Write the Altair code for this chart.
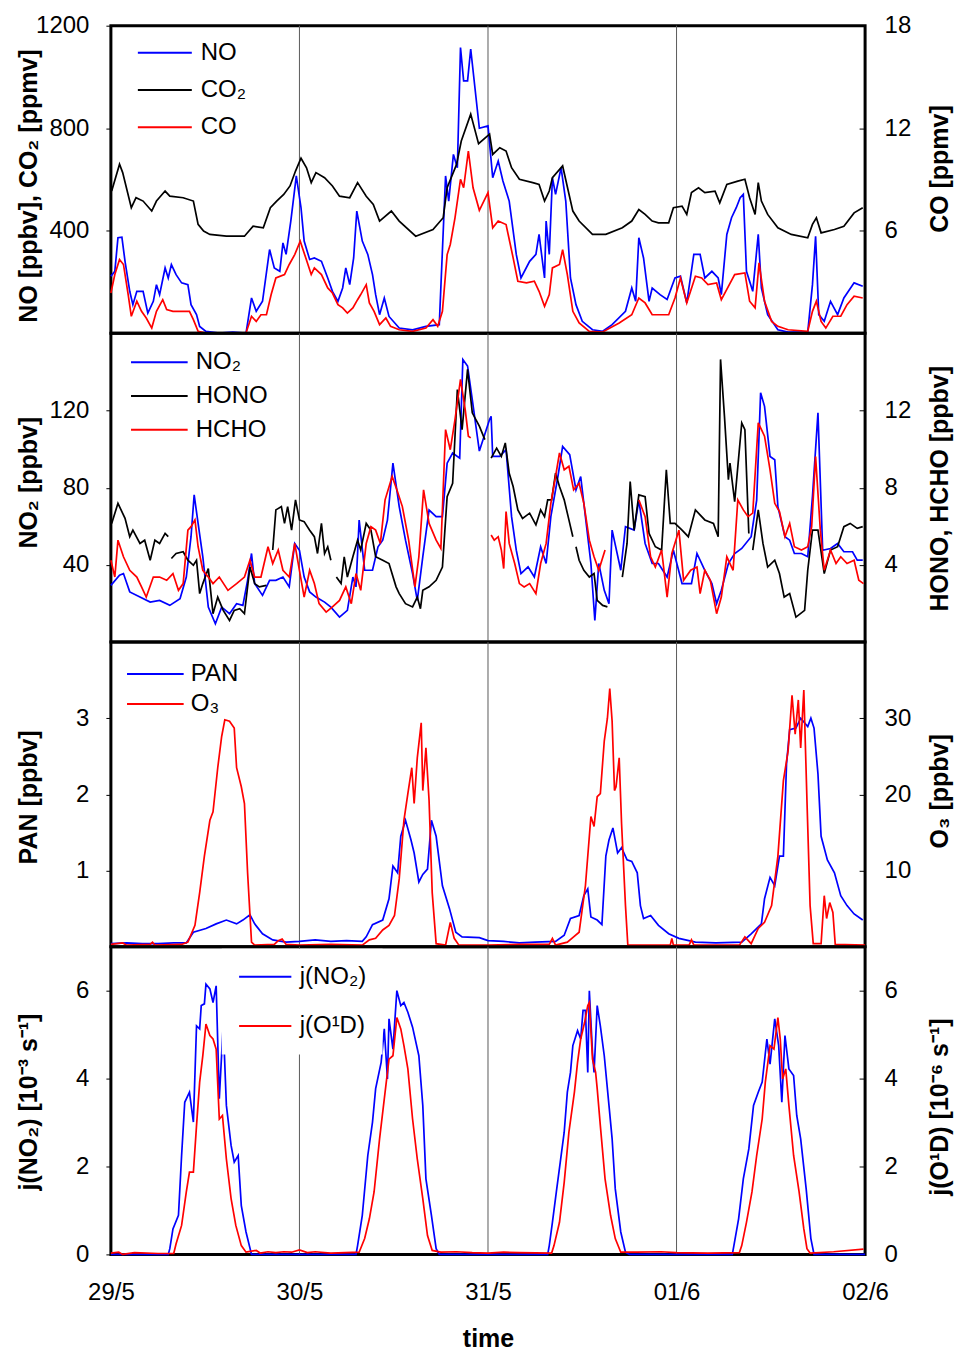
import altair as alt
import pandas as pd

# ---------------- x axis (hours since 29/5 00:00) ----------------
DAY_LABELS = ["29/5", "30/5", "31/5", "01/6", "02/6"]
DAY_TICKS = [0, 24, 48, 72, 96]
DAY_LINES = [24, 48, 72]

# ---------------- panel 1 : NO [ppbv], CO2 [ppmv] (left), CO [ppmv] (right) ----------------
NO = [(0, 223), (0.5, 242), (0.9, 373), (1.4, 375), (1.8, 281), (2.4, 164), (2.8, 112), (3.3, 164),
      (4.1, 164), (4.7, 79), (5.4, 125), (5.8, 190), (6.2, 151), (6.9, 255), (7.3, 216), (7.7, 268),
      (8.3, 229), (9.0, 197), (9.8, 190), (10.2, 112), (10.9, 73), (11.3, 27), (12.1, 8), (13.8, 1),
      (15.5, 5), (17.2, 1), (17.9, 138), (18.5, 86), (19.3, 125), (20.2, 327), (20.8, 255), (21.5, 242),
      (21.9, 353), (22.3, 308), (22.9, 438), (23.6, 614), (24.2, 490), (24.6, 360), (25.3, 288),
      (25.9, 294), (26.8, 281), (27.6, 216), (28.2, 164), (28.9, 125), (29.5, 177), (29.9, 255),
      (30.4, 190), (30.9, 294), (31.3, 477), (32.0, 360), (32.7, 308), (33.3, 229), (33.7, 151),
      (34.2, 73), (34.8, 138), (35.4, 66), (36.7, 21), (38.4, 14), (40.1, 27), (41.8, 34), (42.6, 614),
      (43.0, 516), (43.6, 698), (44.1, 646), (44.5, 1115), (44.9, 985), (45.4, 985), (45.8, 1109),
      (46.9, 800), (48.0, 809), (48.6, 607), (49.3, 672), (49.9, 594), (50.7, 516), (51.6, 308),
      (52.2, 216), (53.3, 281), (54.1, 308), (54.5, 386), (55.2, 216), (55.4, 438), (55.8, 308),
      (56.2, 607), (56.6, 542), (57.3, 646), (57.9, 516), (58.5, 216), (59.2, 112), (60.0, 47),
      (61.3, 14), (62.6, 8), (63.8, 34), (65.5, 86), (66.3, 177), (66.8, 125), (67.2, 373), (67.8, 294),
      (68.5, 125), (68.9, 177), (69.9, 151), (70.8, 132), (71.8, 216), (72.5, 223), (73.3, 119),
      (74.2, 308), (75.0, 308), (75.6, 216), (76.5, 242), (77.3, 216), (77.7, 151), (78.4, 386),
      (79.0, 451), (79.6, 490), (80.1, 529), (80.5, 542), (80.9, 242), (81.7, 164), (82.4, 386),
      (82.8, 177), (83.6, 73), (84.9, 14), (86.2, 5), (88.7, 5), (89.3, 190), (89.7, 379), (90.1, 73),
      (90.8, 47), (91.6, 125), (92.5, 73), (93.3, 138), (94.6, 197), (95.7, 184)]

CO2 = [(0.1, 555), (1.1, 660), (1.5, 627), (2.6, 490), (3.2, 529), (4.1, 516), (5.2, 477), (5.8, 516),
       (6.9, 555), (7.5, 535), (9.2, 529), (10.5, 516), (11.1, 425), (11.8, 399), (12.6, 386), (14.7, 379),
       (17.0, 379), (18.1, 418), (19.4, 412), (20.3, 490), (21.1, 516), (22.0, 542), (22.8, 575),
       (23.5, 633), (24.2, 683), (24.9, 646), (25.5, 588), (26.1, 627), (27.2, 607), (28.2, 575),
       (29.1, 535), (30.4, 529), (31.4, 588), (32.5, 535), (33.4, 503), (34.2, 438), (35.7, 477),
       (36.7, 438), (38.8, 379), (41.0, 405), (42.3, 451), (42.8, 568), (44.0, 659), (44.6, 750),
       (45.8, 855), (46.8, 740), (48.2, 777), (48.6, 698), (49.5, 724), (50.3, 711), (51.0, 646),
       (52.0, 601), (53.7, 588), (54.5, 581), (55.2, 516), (55.8, 555), (56.2, 607), (57.5, 653),
       (58.8, 477), (59.6, 438), (61.3, 386), (63.0, 386), (65.1, 412), (66.3, 438), (67.2, 483),
       (68.0, 464), (68.9, 438), (69.7, 431), (71.0, 431), (71.6, 490), (72.7, 496), (73.3, 464),
       (73.9, 549), (74.8, 568), (75.6, 549), (76.9, 555), (77.5, 509), (78.4, 581), (79.8, 594),
       (80.7, 601), (81.3, 529), (82.0, 464), (82.4, 588), (82.8, 516), (83.6, 464), (84.9, 412),
       (86.6, 386), (88.7, 373), (89.3, 425), (89.8, 451), (90.4, 392), (92.1, 405), (93.3, 418),
       (94.6, 470), (95.7, 490)]

CO = [(0, 2.36), (0.5, 3.44), (1.1, 4.32), (1.6, 4.03), (2.2, 2.27), (2.6, 1.0), (3.3, 1.88), (3.9, 1.29),
      (4.5, 0.9), (5.2, 0.31), (5.8, 1.29), (6.6, 1.97), (7.1, 1.39), (7.9, 1.29), (10.0, 1.29),
      (10.5, 0.8), (11.1, 0.12), (12.1, 0.02), (17.2, 0.02), (17.9, 1.0), (18.5, 0.7), (19.1, 1.09),
      (19.8, 1.09), (20.4, 2.27), (21.0, 3.24), (22.1, 3.44), (22.7, 4.03), (23.4, 4.61), (24.1, 5.39),
      (24.8, 4.42), (25.5, 3.44), (25.9, 3.83), (26.8, 3.44), (27.6, 2.66), (28.2, 2.36), (28.9, 1.68),
      (29.5, 1.49), (30.1, 1.19), (30.8, 1.49), (31.4, 1.97), (31.8, 2.27), (32.5, 2.85), (32.9, 1.78),
      (33.5, 1.29), (34.2, 0.51), (35.0, 0.9), (35.6, 0.41), (36.7, 0.21), (38.4, 0.12), (40.1, 0.31),
      (41.0, 0.8), (41.6, 0.41), (42.2, 1.29), (42.8, 4.61), (43.2, 5.2), (43.8, 6.76), (44.5, 9.01),
      (44.9, 8.52), (45.5, 10.67), (46.1, 8.52), (46.9, 7.2), (48.0, 8.23), (48.6, 6.17), (49.3, 6.57),
      (50.3, 6.37), (51.2, 4.42), (51.8, 3.05), (52.9, 2.95), (53.9, 3.05), (54.5, 2.46), (55.2, 1.58),
      (55.8, 2.27), (56.2, 3.83), (57.1, 4.03), (57.5, 4.9), (58.1, 3.44), (58.8, 1.29), (59.6, 0.61),
      (60.9, 0.12), (62.6, 0.08), (64.7, 0.61), (66.3, 1.09), (67.2, 2.07), (68.0, 1.78), (68.9, 1.09),
      (71.0, 1.09), (71.8, 2.07), (72.5, 3.24), (73.3, 1.78), (74.4, 3.34), (75.2, 3.24), (76.0, 2.85),
      (77.1, 2.95), (77.7, 1.97), (78.6, 2.75), (79.4, 3.44), (80.7, 3.54), (81.3, 1.88), (82.0, 1.49),
      (82.5, 4.12), (83.2, 1.88), (84.1, 0.7), (84.9, 0.41), (86.2, 0.21), (88.7, 0.12), (89.3, 1.29),
      (89.8, 1.88), (90.4, 0.7), (91.0, 0.31), (91.9, 1.0), (92.9, 1.0), (93.7, 1.68), (94.6, 2.17),
      (95.7, 2.07)]

# ---------------- panel 2 : NO2 (left), HONO, HCHO (right); None = data gap ----------------
NO2 = [(0, 29.4), (1.1, 34.6), (1.6, 35.5), (2.4, 26), (3.7, 23.3), (5.0, 20.7), (6.2, 21.6), (7.5, 19.0),
       (8.8, 22.5), (9.6, 33.7), (10.2, 54.6), (10.6, 76.3), (11.1, 61.5), (11.7, 44.2), (12.4, 18.1),
       (13.3, 9.5), (14.1, 18.1), (15.1, 14.7), (16.0, 19.9), (16.8, 19.0), (17.4, 32.0), (17.9, 45.9),
       (18.3, 30.3), (19.3, 24.2), (20.2, 32.0), (21.0, 32.0), (21.9, 33.7), (22.7, 28.6), (23.4, 51.1),
       (24.0, 47.6), (24.6, 33.7), (25.3, 26.0), (26.1, 23.3), (27.2, 20.7), (28.0, 18.1), (29.1, 12.9),
       (30.1, 16.4), (30.8, 33.7), (31.2, 28.6), (31.6, 63.2), (32.3, 37.2), (33.3, 37.2), (34.0, 49.4),
       (34.6, 52.8), (35.2, 63.2), (35.9, 92.7), (36.7, 70.2), (37.5, 52.8), (38.4, 35.5), (39.0, 21.6),
       (39.7, 44.2), (40.5, 68.4), (41.4, 65.0), (42.2, 65.0), (42.8, 92.7), (43.5, 98.0), (44.4, 95.3),
       (44.8, 146.5), (45.4, 143.1), (46.0, 125.7), (46.9, 99.0), (48.2, 115.3), (48.4, 117.0),
       (48.6, 96.2), (49.5, 96.2), (50.3, 99.7), (51.0, 65.0), (51.6, 47.6), (52.2, 35.5), (53.1, 39.0),
       (53.9, 33.7), (54.7, 49.4), (55.4, 40.7), (56.0, 65.0), (56.9, 85.8), (57.5, 101.4), (58.4, 97.1),
       (59.2, 78.9), (59.8, 85.8), (60.4, 65.0), (61.1, 40.7), (61.6, 11.2), (62.1, 40.7), (62.8, 26.8),
       (63.4, 19.9), (63.8, 58.0), (64.9, 37.2), (65.5, 59.8), (66.6, 58.0), (67.2, 73.6), (68.0, 51.1),
       (68.9, 40.7), (69.7, 40.7), (70.8, 33.7), (71.6, 47.6), (72.7, 30.3), (73.9, 30.3), (74.6, 45.9),
       (75.6, 37.2), (76.5, 30.3), (77.1, 19.9), (77.7, 26.8), (78.6, 40.7), (79.4, 45.9), (80.3, 48.5),
       (81.5, 54.6), (82.2, 73.6), (82.7, 129.2), (83.2, 122.2), (83.9, 96.2), (84.5, 94.5), (84.9, 70.2),
       (85.8, 54.6), (86.4, 52.8), (87.0, 45.9), (87.9, 45.9), (88.7, 44.2), (89.3, 75.4), (90.0, 118.8),
       (90.6, 47.6), (91.6, 48.5), (92.5, 51.1), (93.3, 46.8), (94.4, 46.8), (95.0, 42.5), (95.7, 42.5)]

HONO = [(0.1, 6.15), (0.9, 7.19), (1.8, 6.41), (2.4, 5.46), (2.8, 5.8), (3.7, 5.11), (4.3, 5.28), (5.0, 4.24),
        (5.6, 5.28), (6.2, 5.11), (6.9, 5.63), (7.3, 5.46), None,
        (7.7, 4.33), (8.3, 4.59), (9.2, 4.68), (9.8, 4.24), (10.5, 3.98), (10.9, 4.24), (11.3, 2.51),
        (11.7, 3.03), (12.4, 3.81), (13.0, 1.47), (13.6, 2.33), (14.3, 1.64), (15.1, 1.12), (15.7, 1.64),
        (16.4, 1.73), (17.0, 1.47), (17.7, 3.89), (18.3, 3.03), (18.9, 2.86), (19.8, 2.94), None,
        (20.6, 4.77), (21.0, 6.85), (21.7, 7.02), (22.1, 6.15), (22.5, 7.02), (23.0, 5.8), (23.5, 7.37),
        (24.0, 6.33), (24.6, 6.24), (25.3, 5.8), (25.9, 5.46), (26.3, 4.59), (26.8, 6.15), (27.2, 4.59),
        (27.6, 4.94), (28.0, 4.24), None,
        (28.7, 3.37), (29.3, 3.03), (29.7, 4.42), (30.1, 3.37), (30.8, 4.42), (31.4, 5.28), (31.8, 4.77),
        (32.5, 6.15), (33.1, 5.8), (33.7, 4.42), (34.6, 4.24), (35.4, 4.07), (36.3, 2.86), (36.7, 2.51),
        (37.5, 1.99), (38.4, 1.82), (39.0, 2.33), (39.4, 1.73), (39.7, 2.68), (40.5, 2.86), (41.4, 3.2),
        (42.2, 3.89), (42.8, 7.54), (43.5, 8.23), (44.1, 13.09), (44.7, 11.01), (45.4, 14.13),
        (46.0, 11.88), (46.9, 11.19), (47.6, 10.49), None,
        (48.4, 9.53), (49.1, 10.05), (49.7, 9.62), (50.2, 10.32), (50.7, 8.75), (51.2, 8.06), (51.8, 6.85),
        (52.4, 6.41), (53.3, 6.68), (54.1, 6.07), (54.7, 6.85), (55.2, 6.5), (55.6, 7.37), (56.1, 7.37),
        (56.6, 8.75), (57.1, 8.06), (57.7, 7.37), (58.3, 6.33), (58.8, 5.46), None,
        (59.2, 4.94), (59.6, 4.24), (60.2, 3.72), (60.9, 3.37), (61.5, 3.55), (61.9, 2.16), (62.6, 1.9),
        (63.2, 1.82), None,
        (65.1, 3.37), (65.7, 5.11), (66.1, 8.32), (66.6, 5.8), (67.2, 7.63), (68.0, 7.54), (68.5, 5.63),
        (69.3, 4.94), (70.1, 4.77), (70.7, 8.93), (71.2, 6.15), (71.8, 6.15), (72.7, 5.8), (73.5, 5.46),
        (74.4, 6.85), (75.6, 6.33), (76.7, 6.15), (77.3, 5.46), (77.6, 14.65), (78.1, 11.7), (78.6, 8.41),
        (78.8, 9.28), (79.4, 7.28), (80.3, 11.36), (80.7, 11.01), (81.2, 5.63), None,
        (81.7, 4.77), (82.4, 6.85), (83.0, 5.11), (83.6, 3.89), (84.5, 4.24), (85.1, 3.55), (85.7, 2.33),
        (86.4, 2.51), (87.2, 1.29), (88.3, 1.64), (88.7, 3.72), (89.3, 5.8), (90.0, 5.8), (90.8, 3.55),
        (91.6, 4.77), (92.5, 4.94), (93.3, 5.98), (94.1, 6.15), (95.0, 5.89), (95.7, 5.98)]

HCHO = [(0, 4.24), (0.5, 3.37), (0.9, 5.28), (1.6, 4.42), (2.4, 3.72), (3.3, 3.37), (3.9, 2.86), (4.5, 2.33),
        (5.4, 3.37), (6.2, 3.37), (7.1, 3.2), (7.9, 3.55), (8.6, 2.68), (9.2, 3.03), (9.8, 5.8), (10.2, 5.98),
        (10.7, 6.33), (11.1, 4.94), (11.7, 3.72), (12.4, 3.37), (13.0, 3.03), (13.8, 3.37), (14.9, 2.68),
        (16.0, 3.03), (17.0, 3.37), (17.7, 4.24), (18.3, 3.37), (19.1, 3.37), (20.0, 4.94), (20.6, 4.07),
        (21.3, 4.77), (21.9, 3.72), (22.7, 3.37), (23.4, 5.11), (24.0, 3.72), (24.6, 2.33), (25.3, 3.72),
        (25.9, 3.03), (26.5, 1.99), (27.4, 1.55), (28.2, 1.82), (29.1, 2.16), (29.9, 2.86), (30.6, 1.99),
        (31.2, 3.55), (31.8, 2.68), (32.5, 5.11), (33.1, 5.98), (33.7, 5.8), (34.3, 5.11), (34.9, 7.37),
        (35.8, 8.58), (36.4, 7.89), (37.1, 7.02), (37.9, 5.28), (38.7, 2.86), (39.2, 4.42), (39.8, 7.89),
        (40.5, 6.15), (41.4, 5.28), (42.0, 4.85), (42.6, 11.01), (43.2, 9.97), (43.8, 11.53), (44.5, 13.61),
        (45.1, 12.05), (45.5, 10.67), (45.8, 10.58), None,
        (48.4, 5.55), (48.8, 5.28), (49.3, 5.46), (49.7, 4.77), (50.0, 3.81), (50.3, 6.76), (50.7, 5.11),
        (51.4, 4.07), (52.0, 3.03), (52.6, 2.86), (53.3, 3.03), (54.1, 2.51), (54.7, 4.07), (55.4, 5.11),
        (56.0, 7.19), (56.6, 8.58), (57.1, 9.8), (57.7, 8.93), (58.3, 9.11), (58.9, 7.89), (59.6, 8.23),
        (60.2, 7.19), (60.9, 5.28), (61.5, 4.42), (62.1, 3.72), (62.9, 4.77), None,
        (67.2, 7.37), (68.0, 6.5), (68.7, 4.42), (69.3, 3.89), (70.1, 4.77), (70.8, 2.33), (71.4, 4.59),
        (72.3, 5.8), (72.9, 3.2), (73.8, 3.72), (74.6, 3.89), (75.0, 2.51), (75.6, 3.72), (76.3, 3.2),
        (77.1, 1.47), (77.7, 2.33), (78.4, 4.42), (79.2, 3.72), (79.8, 7.37), (80.5, 6.85), (81.1, 6.5),
        (81.7, 6.68), (82.4, 11.36), (83.2, 10.67), (83.9, 8.93), (84.5, 7.19), (85.1, 6.76), (85.8, 5.46),
        (86.4, 6.15), (87.0, 4.94), (87.9, 4.77), (88.7, 4.94), (89.2, 5.98), (89.7, 9.62), (90.3, 5.8),
        (90.8, 3.72), (91.6, 4.77), (92.3, 4.07), (92.9, 4.42), (93.7, 4.07), (94.6, 4.24), (95.2, 3.2),
        (95.8, 3.03)]

# ---------------- panel 3 : PAN (left), O3 (right) ----------------
PAN = [(0, 0.04), (2, 0.05), (4, 0.04), (6, 0.04), (8, 0.05), (9.6, 0.05), (10.5, 0.19), (12.1, 0.24),
       (13.4, 0.3), (14.7, 0.35), (16.0, 0.3), (16.8, 0.35), (17.7, 0.42), (18.3, 0.3), (19.3, 0.17),
       (20.6, 0.09), (22.3, 0.06), (24, 0.07), (26, 0.09), (28, 0.07), (30, 0.08), (32, 0.07), (32.5, 0.13),
       (33.3, 0.29), (34.6, 0.35), (35.4, 0.63), (35.9, 1.06), (36.5, 0.97), (36.9, 1.45), (37.5, 1.66),
       (38.2, 1.4), (38.6, 1.23), (39.2, 0.85), (39.7, 0.95), (40.3, 1.02), (40.8, 1.66), (41.4, 1.45),
       (42.2, 0.8), (43.1, 0.5), (43.9, 0.19), (44.7, 0.13), (46.9, 0.12), (48, 0.08), (50, 0.07),
       (52, 0.05), (54, 0.06), (56.6, 0.07), (57.7, 0.15), (58.5, 0.37), (59.6, 0.41), (60.2, 0.67),
       (60.7, 0.76), (61.1, 0.39), (61.9, 0.35), (62.5, 0.29), (63.0, 1.19), (63.4, 1.4), (63.9, 1.56),
       (64.5, 1.23), (65.0, 1.3), (65.7, 1.14), (66.3, 1.12), (67.0, 0.97), (67.4, 0.54), (67.8, 0.37),
       (68.7, 0.41), (69.7, 0.28), (71.0, 0.17), (72.3, 0.11), (74.4, 0.06), (77, 0.05), (80.3, 0.06),
       (81.5, 0.17), (82.8, 0.3), (83.2, 0.63), (83.9, 0.91), (84.5, 0.8), (85.1, 1.19), (85.6, 1.19),
       (86.0, 2.4), (86.4, 2.85), (87.2, 2.87), (87.8, 3.0), (88.7, 2.89), (89.1, 3.0), (89.5, 2.87),
       (90.0, 2.27), (90.4, 1.45), (91.2, 1.14), (92.1, 0.97), (92.9, 0.67), (93.7, 0.54), (94.6, 0.43),
       (95.7, 0.35)]

O3 = [(0, 0.3), (1.5, 0.5), (2, 0.2), (5, 0.3), (5.3, 0.6), (5.6, 0.2), (9, 0.3), (9.8, 0.6), (10.7, 2.8),
      (11.3, 7.1), (11.9, 11.9), (12.6, 16.6), (13.0, 17.7), (13.6, 23.5), (14.1, 27.6), (14.5, 29.8),
      (15.1, 29.6), (15.7, 28.7), (16.0, 23.5), (16.6, 21.0), (17.0, 18.8), (17.4, 9.7), (17.9, 0.6),
      (18.3, 0.2), (20.8, 0.3), (21.3, 0.8), (21.8, 1.0), (22.3, 0.3), (24, 0.2), (28, 0.3), (32, 0.2),
      (32.9, 0.9), (33.7, 1.1), (34.6, 2.2), (35.4, 2.8), (36.1, 4.1), (36.7, 8.9), (37.3, 16.6),
      (37.8, 20.1), (38.3, 23.5), (38.6, 18.8), (39.0, 24.8), (39.5, 29.4), (39.7, 20.5), (40.1, 26.1),
      (40.5, 19.2), (40.9, 7.1), (41.4, 0.4), (42.6, 0.2), (43.2, 3.2), (43.7, 1.1), (44.3, 0.2), (48, 0.2),
      (52, 0.3), (55.8, 0.3), (56.2, 1.1), (56.6, 0.2), (58.1, 0.6), (58.9, 1.3), (59.6, 1.9), (60.4, 8.0),
      (61.1, 17.1), (61.5, 15.8), (61.9, 19.7), (62.3, 20.1), (62.8, 27.0), (63.2, 30.0), (63.5, 33.9),
      (63.8, 29.6), (64.1, 20.5), (64.3, 21.0), (64.7, 24.8), (65.0, 16.2), (65.5, 5.4), (65.8, 0.2),
      (71.2, 0.2), (71.4, 1.1), (71.6, 0.2), (73.6, 0.2), (73.9, 0.9), (74.2, 0.2), (80.0, 0.2),
      (80.7, 1.3), (81.5, 0.4), (82.4, 2.4), (83.2, 3.2), (84.1, 5.4), (84.9, 11.9), (85.6, 21.8),
      (86.2, 25.7), (86.7, 33.0), (87.1, 27.9), (87.5, 32.4), (87.8, 26.1), (88.2, 33.7), (88.6, 19.2),
      (89.0, 5.4), (89.4, 0.4), (90.4, 0.4), (90.8, 6.7), (91.1, 3.7), (91.5, 5.8), (91.9, 4.5),
      (92.2, 0.3), (96, 0.2)]

# ---------------- panel 4 : j(NO2) [1e-3/s] (left), j(O1D) [1e-6/s] (right) ----------------
JNO2 = [(0, 0), (7.3, 0), (7.5, 0.13), (7.9, 0.58), (8.6, 0.89), (9.0, 2.25), (9.4, 3.46), (10.0, 3.69),
        (10.5, 3.01), (10.9, 5.2), (11.3, 5.13), (11.5, 5.66), (11.9, 5.7), (12.1, 6.15), (12.6, 6.04),
        (13.0, 5.73), (13.4, 6.11), (13.8, 3.54), (14.3, 5.24), (14.7, 3.39), (15.3, 2.48), (15.7, 2.1),
        (16.2, 2.25), (16.6, 1.11), (17.2, 0.51), (17.9, 0), (31.2, 0), (31.4, 0.2), (32.0, 0.89),
        (32.7, 2.25), (33.3, 3.01), (33.7, 3.77), (34.4, 4.37), (34.8, 5.13), (35.2, 3.99), (35.4, 5.36),
        (35.9, 4.67), (36.4, 6.0), (36.9, 5.66), (37.3, 5.73), (37.8, 5.51), (38.4, 5.17), (39.2, 4.52),
        (39.7, 3.39), (40.1, 1.72), (40.8, 0.89), (41.4, 0.13), (41.8, 0), (55.6, 0), (55.8, 0.2),
        (56.2, 0.73), (56.7, 1.42), (57.2, 2.1), (57.7, 2.78), (58.1, 3.69), (58.5, 4.14), (58.8, 4.75),
        (59.4, 5.09), (59.8, 4.9), (60.1, 5.55), (60.4, 5.55), (60.7, 4.14), (60.9, 6.0), (61.3, 4.6),
        (61.5, 4.14), (61.9, 5.66), (62.3, 5.2), (62.8, 4.52), (63.4, 3.39), (63.8, 2.63), (64.2, 1.49),
        (64.9, 0.51), (65.5, 0.05), (66, 0), (79.1, 0), (79.3, 0.2), (79.9, 0.81), (80.5, 1.72),
        (81.2, 2.4), (81.8, 3.39), (82.4, 3.69), (82.9, 3.92), (83.5, 4.9), (83.9, 4.33), (84.5, 5.36),
        (85.0, 4.75), (85.4, 3.46), (85.8, 4.98), (86.3, 4.22), (86.9, 4.07), (87.3, 3.16), (87.8, 2.63),
        (88.5, 1.49), (89.1, 0.36), (89.5, 0), (96, 0)]

JO1D = [(0, 0.03), (1, 0.05), (1.5, 0.0), (3, 0.04), (6, 0.02), (8.0, 0.02), (8.3, 0.24), (9.0, 0.66),
        (9.6, 1.42), (10.0, 1.87), (10.5, 1.87), (10.9, 2.93), (11.3, 3.92), (11.7, 4.52), (12.1, 5.24),
        (12.6, 4.98), (13.0, 4.9), (13.4, 4.67), (13.8, 3.08), (14.2, 3.16), (14.7, 2.17), (15.3, 1.27),
        (15.9, 0.66), (16.6, 0.2), (17.2, 0.05), (18.5, 0.09), (19, 0.03), (20, 0.06), (21, 0.04),
        (22, 0.06), (23, 0.05), (24, 0.1), (25, 0.04), (26, 0.06), (28, 0.03), (31.6, 0.05), (32.3, 0.36),
        (32.9, 0.81), (33.5, 1.42), (34.2, 2.63), (34.8, 3.54), (35.4, 4.44), (35.9, 4.52), (36.4, 5.39),
        (36.9, 5.13), (37.3, 4.75), (37.8, 4.22), (38.4, 3.08), (39.0, 2.17), (39.7, 1.27), (40.3, 0.43),
        (40.9, 0.09), (42, 0.05), (44, 0.06), (46, 0.04), (48, 0.03), (50, 0.05), (52, 0.04), (56.1, 0.03),
        (56.4, 0.2), (57.1, 0.73), (57.7, 1.64), (58.3, 2.78), (59.0, 3.69), (59.4, 4.37), (59.8, 4.9),
        (60.3, 5.28), (60.7, 5.66), (60.9, 5.73), (61.3, 4.44), (61.7, 4.14), (61.9, 3.77), (62.3, 2.93),
        (62.9, 1.72), (63.6, 0.89), (64.2, 0.36), (64.9, 0.05), (67, 0.05), (70, 0.06), (72, 0.04),
        (76, 0.03), (80.0, 0.04), (80.3, 0.2), (80.9, 0.73), (81.6, 1.42), (82.2, 2.25), (82.9, 3.08),
        (83.3, 3.92), (83.9, 4.75), (84.4, 4.67), (84.9, 5.39), (85.2, 4.9), (85.5, 3.99), (85.9, 4.22),
        (86.3, 3.39), (86.9, 2.25), (87.6, 1.42), (88.2, 0.58), (88.6, 0.13), (89.0, 0.03), (92, 0.06),
        (95.8, 0.12)]

BLUE, BLACK, RED = "#0000ff", "#000000", "#ff0000"
FONT = "Liberation Sans"
W = 755


def to_frame(series):
    rows = []
    for name, pts in series:
        seg = 0
        for p in pts:
            if p is None:
                seg += 1
                continue
            rows.append({"h": p[0], "v": p[1], "series": name, "seg": seg})
    return pd.DataFrame(rows)


label_expr = "[" + ",".join("'%s'" % s for s in DAY_LABELS) + "][round(datum.value / 24)]"


def x_enc(show):
    scale = alt.Scale(domain=[0, 96], nice=False, zero=False)
    if show:
        axis = alt.Axis(values=DAY_TICKS, labelExpr=label_expr, ticks=False, tickSize=0,
                        labelPadding=26, labelFlush=False, labelFontSize=24,
                        title="time", titleY=92, titleBaseline="alphabetic",
                        titleFontSize=25, titleFontWeight="bold", domain=False, grid=False)
        return alt.X("h:Q", scale=scale, axis=axis)
    return alt.X("h:Q", scale=scale, axis=None)


def legend(lx, ly, size, rowpad, offset, boxed=False):
    if boxed:
        return alt.Legend(orient="none", legendX=lx, legendY=ly, title=None,
                          symbolType="stroke", symbolSize=size,
                          symbolStrokeWidth=2, clipHeight=24, rowPadding=rowpad,
                          labelOffset=offset, padding=16, fillColor="white",
                          labelFontSize=24, labelFont=FONT, labelColor="black")
    return alt.Legend(orient="none", legendX=lx, legendY=ly, title=None, symbolType="stroke",
                      symbolSize=size, symbolStrokeWidth=2, clipHeight=24, rowPadding=rowpad,
                      labelOffset=offset, padding=0, labelFontSize=24, labelFont=FONT,
                      labelColor="black")


def panel(height, left, right, names, colors, ldom, lvals, ltitle, lty, rdom, rvals, rtitle, rty,
          leg, show_x):
    xe = x_enc(show_x)
    cscale = alt.Scale(domain=names, range=colors)
    rules = alt.Chart(pd.DataFrame({"h": DAY_LINES})).mark_rule(
        color="#5a5a5a", strokeWidth=1).encode(x=xe)
    laxis = alt.Axis(orient="left", values=lvals, format="d", title=ltitle, titleX=-69, titleY=lty,
                     titleAngle=270, titleAlign="center", titleBaseline="bottom",
                     tickSize=5, labelPadding=17, grid=False, domain=False)
    # right axis drawn 6px inside the frame so that its ticks point inwards
    raxis = alt.Axis(orient="right", values=rvals, format="d", title=rtitle, titleX=93, titleY=rty,
                     titleAngle=270, titleAlign="center", titleBaseline="bottom", offset=-6,
                     ticks=True, tickSize=6, labelPadding=19, grid=False, domain=False)
    lch = alt.Chart(to_frame(left)).mark_line(strokeWidth=1.7).encode(
        x=xe,
        y=alt.Y("v:Q", scale=alt.Scale(domain=ldom, nice=False, zero=False), axis=laxis),
        color=alt.Color("series:N", scale=cscale, legend=leg),
        detail="seg:N",
    )
    rch = alt.Chart(to_frame(right)).mark_line(strokeWidth=1.7).encode(
        x=xe,
        y=alt.Y("v:Q", scale=alt.Scale(domain=rdom, nice=False, zero=False), axis=raxis),
        color=alt.Color("series:N", scale=cscale, legend=leg),
        detail="seg:N",
    )
    return alt.layer(rules, lch, rch).resolve_scale(y="independent").properties(
        width=W, height=height)


p1 = panel(308, [("NO", NO), ("CO₂", CO2)], [("CO", CO)], ["NO", "CO₂", "CO"], [BLUE, BLACK, RED],
           [0, 1200], [400, 800, 1200], "NO [ppbv], CO₂ [ppmv]", 160,
           [0, 18], [6, 12, 18], "CO [ppmv]", 143,
           legend(26, 15, 2916, 13.3, 8), False)

p2 = panel(309, [("NO₂", NO2)], [("HONO", HONO), ("HCHO", HCHO)], ["NO₂", "HONO", "HCHO"],
           [BLUE, BLACK, RED],
           [0, 160], [40, 80, 120], "NO₂ [ppbv]", 149,
           [0, 16], [4, 8, 12], "HONO, HCHO [ppbv]", 155,
           legend(19, 17, 3215, 9.7, 7), False)

p3 = panel(305, [("PAN", PAN)], [("O₃", O3)], ["PAN", "O₃"], [BLUE, RED],
           [0, 4], [1, 2, 3], "PAN [ppbv]", 155,
           [0, 40], [10, 20, 30], "O₃ [ppbv]", 149,
           legend(15, 20, 3215, 6, 6), False)

p4 = panel(308, [("j(NO₂)", JNO2)], [("j(O¹D)", JO1D)], ["j(NO₂)", "j(O¹D)"], [BLUE, RED],
           [0, 7], [0, 2, 4, 6], "j(NO₂) [10⁻³ s⁻¹]", 155,
           [0, 7], [0, 2, 4, 6], "j(O¹D) [10⁻⁶ s⁻¹]", 160,
           legend(111, 2, 2735, 25.3, 7, boxed=True), True)

chart = alt.vconcat(p1, p2, p3, p4, spacing=0, bounds="flush").resolve_scale(
    color="independent").properties(
    padding={"left": 7, "top": 3, "right": 0, "bottom": 0}
).configure(font=FONT).configure_view(
    stroke="black", strokeWidth=3
).configure_axis(
    labelFont=FONT, titleFont=FONT, labelFontSize=24, titleFontSize=25, titleFontWeight="bold",
    labelColor="black", titleColor="black", tickColor="black", tickWidth=1, grid=False
).configure_legend(
    labelFont=FONT, labelFontSize=24, labelColor="black"
)

chart.save("out.html", embed_options={"renderer": "svg", "actions": False})
